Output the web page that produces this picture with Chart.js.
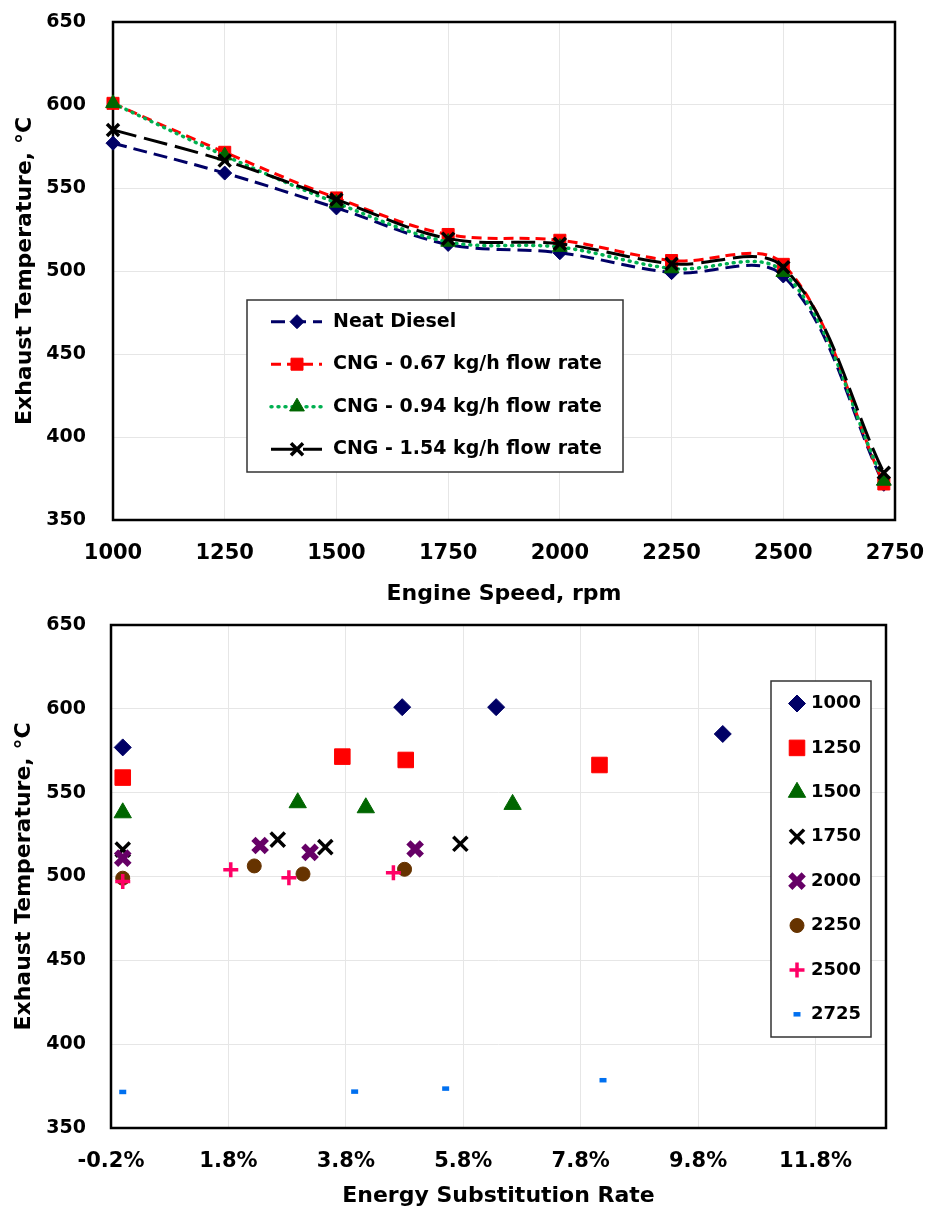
<!DOCTYPE html>
<html>
<head>
<meta charset="utf-8">
<script src="https://cdn.jsdelivr.net/npm/chart.js@4.4.1/dist/chart.umd.min.js"></script>
<style>
  html, body { margin: 0; padding: 0; background: #fff; }
  .box { position: absolute; left: 0; width: 928px; }
  #top { top: 0; height: 615px; }
  #bottom { top: 605px; height: 605px; }
</style>
</head>
<body>
<div class="box" id="top"><canvas id="speed"></canvas></div>
<div class="box" id="bottom"><canvas id="esr"></canvas></div>
<script>
// engine speed, rpm
const speeds = [1000, 1250, 1500, 1750, 2000, 2250, 2500, 2725];

// exhaust temperature, degC
const neatDiesel = [577, 559, 538, 516, 511, 499, 497, 371.5];
const cng067 = [601, 571.5, 544, 522, 518.5, 506.3, 504, 371.7];
const cng094 = [601, 569.5, 541, 517.5, 514.4, 501.5, 499.3, 373.5];
const cng154 = [585, 566.5, 543, 519.5, 516.4, 504.3, 502.3, 378.5];

// energy substitution rate, % (neat diesel is 0)
const esrDiesel = [0, 0, 0, 0, 0, 0, 0, 0];
const esr067 = [4.76, 3.74, 2.98, 2.64, 2.34, 2.24, 1.84, 3.95];
const esr094 = [6.36, 4.82, 4.14, 3.45, 3.19, 3.07, 2.83, 5.5];
const esr154 = [10.22, 8.12, 6.64, 5.75, 4.98, 4.8, 4.61, 8.18];

const esrTicks = [-0.2, 1.8, 3.8, 5.8, 7.8, 9.8, 11.8];

Chart.defaults.font.family = "'DejaVu Sans', sans-serif";
Chart.defaults.font.weight = 'bold';
Chart.defaults.color = '#000';

const GRID = '#e6e6e6';

// black frame round the plot area, drawn under the marks
const plotFrame = {
    id: 'plotFrame',
    beforeDatasetsDraw(chart) {
        const {ctx, chartArea: a} = chart;
        ctx.save();
        ctx.strokeStyle = '#000';
        ctx.lineWidth = 2.5;
        ctx.strokeRect(a.left, a.top, a.right - a.left, a.bottom - a.top);
        ctx.restore();
    }
};

// boxed legend placed inside the plot, like the Excel one
const boxLegend = {
    id: 'boxLegend',
    afterDraw(chart, args, o) {
        const ctx = chart.ctx;
        ctx.save();
        ctx.fillStyle = '#fff';
        ctx.strokeStyle = '#333';
        ctx.lineWidth = 1.5;
        ctx.fillRect(o.x, o.y, o.w, o.h);
        ctx.strokeRect(o.x, o.y, o.w, o.h);
        chart.data.datasets.forEach((ds, i) => {
            const y = o.rowStart + i * o.rowGap;
            if (o.lineFrom !== undefined) {
                ctx.save();
                ctx.strokeStyle = ds.borderColor;
                ctx.lineWidth = ds.borderWidth;
                ctx.lineCap = ds.borderCapStyle || 'butt';
                ctx.setLineDash(ds.borderDash || []);
                ctx.beginPath();
                ctx.moveTo(o.lineFrom, y);
                ctx.lineTo(o.lineTo, y);
                ctx.stroke();
                ctx.restore();
            }
            ctx.fillStyle = ds.pointBackgroundColor;
            ctx.strokeStyle = ds.pointBorderColor;
            ctx.lineWidth = ds.pointBorderWidth;
            Chart.helpers.drawPoint(ctx, {
                pointStyle: ds.pointStyle,
                radius: ds.pointRadius,
                rotation: 0,
                borderWidth: ds.pointBorderWidth
            }, o.markX, y);
            ctx.fillStyle = '#000';
            ctx.font = o.font;
            ctx.textAlign = 'left';
            ctx.textBaseline = 'middle';
            ctx.fillText(ds.label, o.textX, y);
        });
        ctx.restore();
    }
};

function points(xs, ys) {
    return xs.map((x, i) => ({x: x, y: ys[i]}));
}

// fixed axis box sizes, and no extra room for overhanging labels
function fixSize(w, h) {
    return (s) => {
        if (w) s.width = w;
        if (h) s.height = h;
        s.paddingLeft = s.paddingRight = s.paddingTop = s.paddingBottom = 0;
    };
}

/**
 * Draws the exhaust temperature against engine speed, one smoothed line per fuel.
 */
function draw_speed() {
    const canvas = document.getElementById('speed');
    const line = (label, values, color, dash, style, radius, extra) => Object.assign({
        label: label,
        data: points(speeds, values),
        borderColor: color,
        borderWidth: 3,
        borderDash: dash,
        pointStyle: style,
        pointRadius: radius,
        pointBackgroundColor: color,
        pointBorderColor: color,
        pointBorderWidth: 1,
        tension: 0.35,
        clip: false,
    }, extra || {});

    new Chart(canvas, {
        type: 'line',
        data: {
            datasets: [
                line('Neat Diesel', neatDiesel, '#000066', [14, 7], 'rectRot', 7, {order: 4}),
                line('CNG - 0.67 kg/h flow rate', cng067, '#ff0000', [10, 6], 'rect', 8.5, {order: 3}),
                line('CNG - 0.94 kg/h flow rate', cng094, '#00b050', [1, 6], 'triangle', 8.5, {
                    order: 2, borderWidth: 3.5, borderCapStyle: 'round',
                    pointBackgroundColor: '#006600', pointBorderColor: '#006600'
                }),
                line('CNG - 1.54 kg/h flow rate', cng154, '#000000', [24, 8], 'crossRot', 8.5, {
                    order: 1, pointBorderWidth: 3.5
                }),
            ]
        },
        options: {
            responsive: true,
            maintainAspectRatio: false,
            animation: false,
            devicePixelRatio: 1,
            layout: { padding: { left: 0, right: 33, top: 22, bottom: 0 } },
            scales: {
                x: {
                    type: 'linear',
                    min: 1000,
                    max: 2750,
                    afterFit: fixSize(0, 95),
                    ticks: {
                        stepSize: 250, font: { size: 21 }, padding: 21, maxRotation: 0, autoSkip: false,
                        callback: (v) => String(v)
                    },
                    grid: { color: GRID, drawTicks: false },
                    border: { display: false },
                    title: { display: true, text: 'Engine Speed, rpm', font: { size: 22 }, padding: { top: 0, bottom: 8 } },
                },
                y: {
                    min: 350,
                    max: 650,
                    afterFit: fixSize(113, 0),
                    ticks: { stepSize: 50, font: { size: 19 }, padding: 27 },
                    grid: { color: GRID, drawTicks: false },
                    border: { display: false },
                    title: { display: true, text: 'Exhaust Temperature, °C', font: { size: 22 }, padding: { top: 12, bottom: 0 } },
                },
            },
            plugins: {
                legend: { display: false },
                tooltip: { enabled: false },
                boxLegend: {
                    x: 247, y: 300, w: 376, h: 172,
                    rowStart: 321.7, rowGap: 42.5,
                    lineFrom: 271, lineTo: 322, markX: 297, textX: 333,
                    font: "bold 19px 'DejaVu Sans'"
                },
            },
        },
        plugins: [plotFrame, boxLegend],
    });
}

/**
 * Draws the exhaust temperature against energy substitution rate, one series per engine speed.
 */
function draw_esr() {
    const canvas = document.getElementById('esr');
    const colors = ['#000066', '#ff0000', '#006600', '#000000', '#660066', '#663300', '#ff0066', '#0070f0'];
    const styles = ['rectRot', 'rect', 'triangle', 'crossRot', 'crossRot', 'circle', 'cross', 'line'];
    const radii = [8.5, 11, 10, 10, 9.5, 7, 7.5, 3.5];
    const widths = [1, 1, 1, 3.5, 6, 1, 3.5, 4.5];

    const datasets = speeds.map((speed, i) => ({
        label: String(speed),
        data: points(
            [esrDiesel[i], esr067[i], esr094[i], esr154[i]],
            [neatDiesel[i], cng067[i], cng094[i], cng154[i]]
        ),
        showLine: false,
        pointStyle: styles[i],
        pointRadius: radii[i],
        pointBackgroundColor: colors[i],
        pointBorderColor: colors[i],
        pointBorderWidth: widths[i],
        order: speeds.length - i,
        clip: false,
    }));

    new Chart(canvas, {
        type: 'scatter',
        data: { datasets: datasets },
        options: {
            responsive: true,
            maintainAspectRatio: false,
            animation: false,
            devicePixelRatio: 1,
            layout: { padding: { left: 0, right: 42, top: 20, bottom: 0 } },
            scales: {
                x: {
                    type: 'linear',
                    min: -0.2,
                    max: 13.0,
                    afterFit: fixSize(0, 82),
                    afterBuildTicks: (s) => { s.ticks = esrTicks.map(v => ({ value: v })); },
                    ticks: {
                        font: { size: 21 }, padding: 21, maxRotation: 0, autoSkip: false,
                        callback: (v) => v.toFixed(1) + '%'
                    },
                    grid: { color: GRID, drawTicks: false },
                    border: { display: false },
                    title: { display: true, text: 'Energy Substitution Rate', font: { size: 22 }, padding: { top: 0, bottom: 1 } },
                },
                y: {
                    min: 350,
                    max: 650,
                    afterFit: fixSize(111, 0),
                    ticks: { stepSize: 50, font: { size: 19 }, padding: 25 },
                    grid: { color: GRID, drawTicks: false },
                    border: { display: false },
                    title: { display: true, text: 'Exhaust Temperature, °C', font: { size: 22 }, padding: { top: 11, bottom: 0 } },
                },
            },
            plugins: {
                legend: { display: false },
                tooltip: { enabled: false },
                boxLegend: {
                    x: 771, y: 76, w: 100, h: 356,
                    rowStart: 98.5, rowGap: 44.4,
                    markX: 797, textX: 811,
                    font: "bold 18px 'DejaVu Sans'"
                },
            },
        },
        plugins: [plotFrame, boxLegend],
    });
}

draw_speed();
draw_esr();
</script>
</body>
</html>
